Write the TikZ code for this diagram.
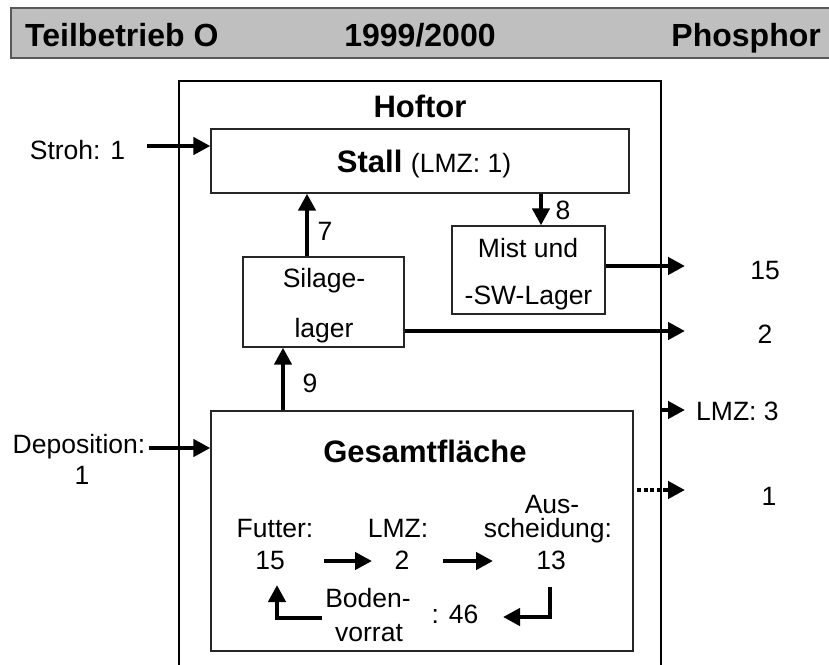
\documentclass[tikz,border=0pt]{standalone}
\usepackage{fontspec}
\setmainfont{Liberation Sans}
\usetikzlibrary{arrows.meta,calc}
\tikzset{
  txt/.style={inner sep=0pt, anchor=base, font=\fontsize{26.5}{30}\selectfont},
  ttl/.style={inner sep=0pt, anchor=base, font=\fontsize{31}{36}\selectfont\bfseries},
  hdr/.style={inner sep=0pt, font=\fontsize{32}{36}\selectfont\bfseries},
  boxx/.style={draw=black!85, line width=1.3pt, inner sep=0pt},
  arr/.style={line width=4.5pt, -{Triangle[length=17pt,width=17pt]}},
}
\begin{document}
\begin{tikzpicture}[x=1pt,y=-1pt]
\useasboundingbox (0,0) rectangle (829,664);
\clip (0,0) rectangle (829,664);
% header
\path[fill=black!25, draw=black!65, line width=1.3pt] (845,8) -- (11,8) -- (11,58) -- (845,58);
\node[hdr, anchor=base west] (h1) at (25,46) {Teilbetrieb O};
\node[hdr, anchor=base] (h2) at (420,46) {1999/2000};
\node[hdr, anchor=base east] (h3) at (821,46) {Phosphor};
% Hoftor frame
\coordinate (hofBL) at (179,680);
\coordinate (hofTL) at (179,81);
\coordinate (hofTR) at (661,81);
\coordinate (hofBR) at (661,680);
\draw[line width=1.8pt] (hofBL) -- (hofTL) -- (hofTR) -- (hofBR);
\node[ttl] (hoftor) at (420,117) {Hoftor};
% boxes
\node[boxx, minimum width=418pt, minimum height=64pt] (stall) at (420,161) {};
\node[txt] (stalltxt) at (424,172)
  {\fontsize{31}{36}\selectfont\bfseries Stall \fontsize{26.5}{30}\selectfont\mdseries(LMZ: 1)};
\node[boxx, minimum width=161pt, minimum height=90pt] (silage) at (323.5,302) {};
\node[txt] (silage1) at (324,287) {Silage-};
\node[txt] (silage2) at (324,337) {lager};
\node[boxx, minimum width=153pt, minimum height=88pt] (mist) at (528.5,270) {};
\node[txt] (mist1) at (528,257) {Mist und};
\node[txt] (mist2) at (528.5,304) {-SW-Lager};
\node[boxx, minimum width=422pt, minimum height=240pt] (ges) at (422,531) {};
\node[ttl] (gestitle) at (425,462) {Gesamtfläche};
% outside labels
\node[txt] (stroh) at (77.5,159) {Stroh: 1};
\node[txt] (depo1) at (79,453) {Deposition:};
\node[txt] (depo2) at (82,484) {1};
\node[txt] (l7) at (325,240) {7};
\node[txt] (l8) at (563,219) {8};
\node[txt] (l9) at (310,392) {9};
\node[txt] (o15) at (765,279) {15};
\node[txt] (o2) at (765,343) {2};
\node[txt, anchor=base west] (olmz) at (696,420) {LMZ: 3};
\node[txt] (o1) at (769,505) {1};
% inner labels
\node[txt] (futter1) at (275,537) {Futter:};
\node[txt] (futter2) at (270,569) {15};
\node[txt] (lmz1) at (398,537) {LMZ:};
\node[txt] (lmz2) at (402,569) {2};
\node[txt] (aus1) at (552,513) {Aus-};
\node[txt] (aus2) at (548,537) {scheidung:};
\node[txt] (aus3) at (551,569) {13};
\node[txt] (boden1) at (368,607) {Boden-};
\node[txt] (boden2) at (369,641) {vorrat};
\node[txt] (n46) at (455,623) {: 46};
% connectors
\coordinate (strohA) at (147,146);
\draw[arr] (strohA) -- (strohA -| stall.west);
\coordinate (depA) at (149,448);
\draw[arr] (depA) -- (depA -| ges.west);
\coordinate (x7) at (307,0);
\draw[arr] (silage.north -| x7) -- (stall.south -| x7);
\coordinate (x8) at (541,0);
\draw[arr] (stall.south -| x8) -- (mist.north -| x8);
\coordinate (x9) at (283,0);
\draw[arr] (ges.north -| x9) -- (silage.south -| x9);
\coordinate (out15) at (685,266);
\draw[arr] (out15 -| mist.east) -- (out15);
\coordinate (out2) at (685,331);
\draw[arr] (out2 -| silage.east) -- (out2);
\coordinate (lmzA) at (662,410);
\coordinate (lmzB) at (685,410);
\draw[arr] (lmzA) -- (lmzB);
\coordinate (dotA) at (637,490);
\coordinate (dotB) at (685,490);
\draw[line width=4.5pt, dash pattern=on 4pt off 2.5pt] (dotA) -- (669,490);
\draw[arr] (667,490) -- (dotB);
\coordinate (fA) at (324,561);
\coordinate (fB) at (372,561);
\draw[arr] (fA) -- (fB);
\coordinate (lA) at (443,561);
\coordinate (lB) at (493,561);
\draw[arr] (lA) -- (lB);
\coordinate (aA) at (550,587);
\coordinate (aB) at (503,617);
\draw[arr] (aA) |- (aB);
\coordinate (bA) at (322,618);
\coordinate (bB) at (277,585);
\draw[arr] (bA) -| (bB);
\end{tikzpicture}
\end{document}
